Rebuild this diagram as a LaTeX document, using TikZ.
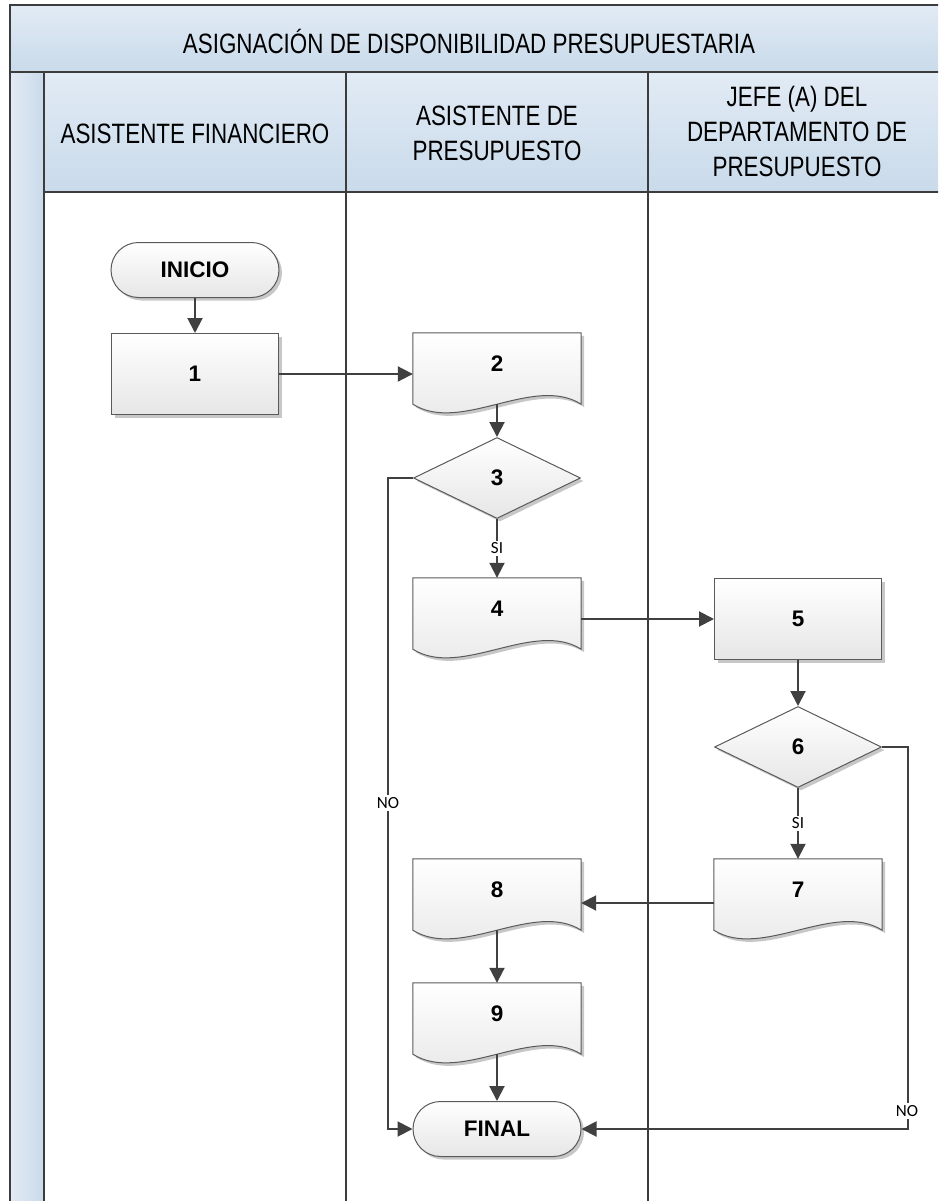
\documentclass[tikz,border=0pt]{standalone}
\usepackage{fontspec}
\setmainfont{Liberation Sans}
\newfontfamily\hdrfont[FakeStretch=0.8]{Liberation Sans}
\newfontfamily\lblfont{Carlito}
\usetikzlibrary{arrows.meta,shapes.geometric,shapes.misc,shadows,calc}
\pgfdeclarelayer{lanes}\pgfdeclarelayer{shp}
\pgfsetlayers{lanes,shp,main}
\definecolor{framecol}{HTML}{3C3C3C}
\definecolor{hdrtop}{HTML}{E2EBF5}
\definecolor{hdrbot}{HTML}{C9DAEA}
\definecolor{shpline}{HTML}{5A5A5A}
\definecolor{shpbot}{HTML}{E6E6E6}
\definecolor{arrcol}{HTML}{404040}
\tikzset{
  frameline/.style={draw=framecol, line width=2.5pt},
  hdr/.style={font=\hdrfont\fontsize{28}{35}\selectfont, align=center, inner sep=0pt},
  shp/.style={draw=shpline, line width=1pt, top color=white, bottom color=shpbot,
    drop shadow={shadow xshift=3pt, shadow yshift=-3pt, opacity=0.22, fill=black}},
  numfont/.style={font=\fontsize{22.5}{26}\selectfont\bfseries},
  procbox/.style={shp, rectangle, minimum width=167pt, minimum height=81pt, inner sep=0pt, numfont},
  termbox/.style={shp, rounded rectangle, minimum width=168pt, minimum height=55pt, inner sep=0pt, numfont},
  decis/.style={shp, diamond, minimum width=167pt, minimum height=81pt, inner sep=0pt, numfont},
  docbox/.style={rectangle, minimum width=168pt, minimum height=62pt, inner sep=0pt, numfont},
  arr/.style={draw=arrcol, line width=2pt, -{Triangle[length=15pt,width=15pt]}},
  lbl/.style={font=\lblfont\fontsize{17}{20}\selectfont, fill=white, inner sep=2pt},
}
\newcommand\drawdoc[1]{\path[shp] (#1.north west) -- (#1.north east) -- ($(#1.south east)+(0,9)$) .. controls +(-48,-30) and +(48,30) .. ($(#1.south west)+(0,9)$) -- cycle;}
\begin{document}
\begin{tikzpicture}[x=1pt,y=-1pt]
\useasboundingbox (0,0) rectangle (938,1201);
\begin{pgfonlayer}{lanes}
\begin{scope}
\clip (0,0) rectangle (938,1201);
\fill[white] (0,0) rectangle (938,1201);
\path[top color=hdrtop,bottom color=hdrbot] (10,5) rectangle (960,72);
\path[top color=hdrtop,bottom color=hdrbot] (44,72) rectangle (960,192);
\path[left color=hdrtop,right color=hdrbot] (10,72) rectangle (44,1210);
\draw[frameline] (960,5) -- (10,5) -- (10,1210);
\draw[frameline] (10,72) -- (960,72);
\draw[frameline] (44,72) -- (44,1210);
\draw[frameline] (44,192) -- (960,192);
\draw[frameline] (346,72) -- (346,1210);
\draw[frameline] (648,72) -- (648,1210);
\end{scope}
\end{pgfonlayer}
% headers
\node[hdr] (title) at (469,41) {ASIGNACIÓN DE DISPONIBILIDAD PRESUPUESTARIA};
\node[hdr] (h1) at (195,134) {ASISTENTE FINANCIERO};
\node[hdr] (h2) at (497,133) {ASISTENTE DE\\PRESUPUESTO};
\node[hdr] (h3) at (797,131) {JEFE (A) DEL\\DEPARTAMENTO DE\\PRESUPUESTO};
% nodes
\node[termbox] (ini) at (195,270) {INICIO};
\node[procbox] (n1) at (195,374) {1};
\node[docbox] (n2) at (497,364) {2};
\node[decis] (d3) at (497,478) {3};
\node[docbox] (n4) at (497,609) {4};
\node[procbox] (n5) at (798,619) {5};
\node[decis] (d6) at (798,747) {6};
\node[docbox] (n7) at (798,890) {7};
\node[docbox] (n8) at (497,890) {8};
\node[docbox] (n9) at (497,1014) {9};
\node[termbox] (fin) at (497,1129) {FINAL};
\begin{pgfonlayer}{shp}
\drawdoc{n2}\drawdoc{n4}\drawdoc{n7}\drawdoc{n8}\drawdoc{n9}
\end{pgfonlayer}
\coordinate (n2b) at ($(n2.south)+(0,9)$);
\coordinate (n8b) at ($(n8.south)+(0,9)$);
\coordinate (n9b) at ($(n9.south)+(0,9)$);
\coordinate (cL) at ($(fin.west)+(-25,0)$);
\coordinate (cR) at ($(fin.east -| d6.east)+(26,0)$);
% connectors
\draw[arr] (ini.south) -- (n1.north);
\draw[arr] (n1.east) -- (n1.east -| n2.west);
\draw[arr] (n2b) -- (d3.north);
\draw[arr] (d3.south) -- node[lbl] (si1) {SI} (n4.north);
\draw[arr] (n5.west -| n4.east) -- (n5.west);
\draw[arr] (n5.south) -- (d6.north);
\draw[arr] (d6.south) -- node[lbl] (si2) {SI} (n7.north);
\coordinate (a78) at ($(n7.west)+(0,13)$);
\draw[arr] (a78) -- (a78 -| n8.east);
\draw[arr] (n8b) -- (n9.north);
\draw[arr] (n9b) -- (fin.north);
\draw[arr] (d3.west) -| (cL) -- (fin.west);
\draw[arr] (d6.east) -| (cR) -- (fin.east);
\node[lbl] (no1) at (388,803) {NO};
\node[lbl] (no2) at (907,1111) {NO};
\end{tikzpicture}
\end{document}
